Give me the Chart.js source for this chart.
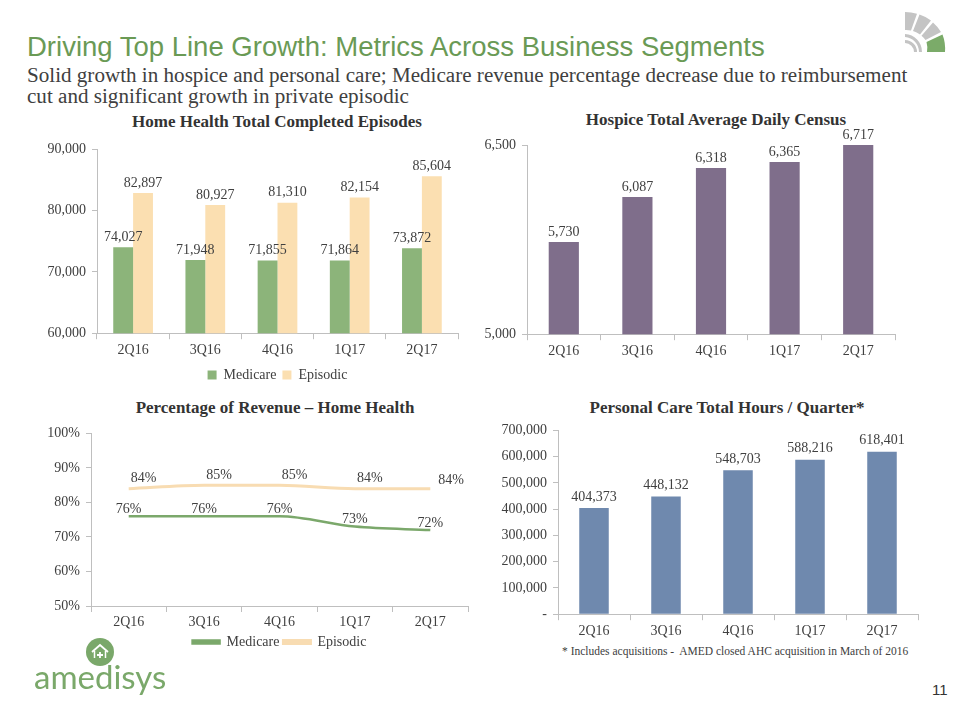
<!DOCTYPE html>
<html>
<head>
<meta charset="utf-8">
<script src="https://cdn.jsdelivr.net/npm/chart.js@4.4.0/dist/chart.umd.min.js"></script>
<style>
  html, body { margin: 0; padding: 0; background: #fff; }
  #page { position: relative; width: 960px; height: 720px; overflow: hidden; font-family: 'Liberation Serif', serif; color: #404040; }
  .abs { position: absolute; }
  h1 { position: absolute; left: 27px; top: 31px; margin: 0; font: 27.5px 'Liberation Sans', Arial, sans-serif; color: #6a9a55; white-space: nowrap; }
  .sub { left: 27px; top: 65px; width: 920px; font-size: 21.1px; line-height: 21px; color: #404040; white-space: nowrap; }
  .ctitle { width: 420px; text-align: center; font-weight: bold; font-size: 17px; color: #333; white-space: nowrap; }
  canvas { position: absolute; }
</style>
</head>
<body>
<div id="page">
  <svg class="abs" style="left:900px;top:8px" width="50" height="50" viewBox="0 0 50 50">
    <g fill="#c4c4c4">
      <path d="M5 4 A40 40 0 0 1 17 5.8 L11 22.5 A22 22 0 0 0 5 22 Z"/>
      <path d="M19.5 6.5 A40 40 0 0 1 31 12.5 L20 26.5 A22 22 0 0 0 13 23 Z"/>
      <path d="M33 14.5 A40 40 0 0 1 41 24 L25.5 32 A22 22 0 0 0 21.5 27.8 Z"/>
      <path d="M5 26 A18 18 0 0 1 22 44 L19 44 A15 15 0 0 0 5 29 Z"/>
      <path d="M5 32 A12 12 0 0 1 17 44 L14 44 A9 9 0 0 0 5 35 Z"/>
    </g>
    <path fill="#7bab69" d="M42.5 26.5 A40 40 0 0 1 45 44 L27 44 A22 22 0 0 0 26.5 34 Z"/>
  </svg>

  <h1>Driving Top Line Growth: Metrics Across Business Segments</h1>
  <div class="abs sub">Solid growth in hospice and personal care; Medicare revenue percentage decrease due to reimbursement<br>cut and significant growth in private episodic</div>

  <div class="abs ctitle" style="left:67px;top:112px">Home Health Total Completed Episodes</div>
  <div class="abs ctitle" style="left:506px;top:110px">Hospice Total Average Daily Census</div>
  <div class="abs ctitle" style="left:65px;top:398px">Percentage of Revenue – Home Health</div>
  <div class="abs ctitle" style="left:517px;top:398px">Personal Care Total Hours / Quarter*</div>

  <canvas id="c1" width="440" height="257" style="left:30px;top:135px"></canvas>
  <canvas id="c2" width="440" height="243" style="left:470px;top:120px"></canvas>
  <canvas id="c3" width="460" height="240" style="left:25px;top:419px"></canvas>
  <canvas id="c4" width="450" height="227" style="left:485px;top:416px"></canvas>

  <div class="abs" style="left:562px;top:645px;font-size:11.5px;white-space:nowrap">* Includes acquisitions -&nbsp; AMED closed AHC acquisition in March of 2016</div>

  <svg class="abs" style="left:86px;top:638px" width="28" height="28" viewBox="0 0 28 28">
    <circle cx="14" cy="14" r="14" fill="#7aa86a"/>
    <path d="M6 14 L14 7 L22 14" fill="none" stroke="#fff" stroke-width="1.8"/>
    <path d="M8.5 13 L8.5 20 M19.5 13 L19.5 20" fill="none" stroke="#fff" stroke-width="1.5"/>
    <path d="M14 14 L14 20 M11 17 L17 17" fill="none" stroke="#fff" stroke-width="1.8"/>
  </svg>
  <div class="abs" style="left:34px;top:656px;font:33px Lato, 'Noto Sans', sans-serif;color:#7aa86a">amedisys</div>
  <div class="abs" style="left:932px;top:681px;font:15px 'Liberation Sans', Arial, sans-serif;color:#333">11</div>
</div>

<script>
const quarters = ['2Q16', '3Q16', '4Q16', '1Q17', '2Q17'];

// Home Health total completed episodes
const hhMedicare = [74027, 71948, 71855, 71864, 73872];
const hhEpisodic = [82897, 80927, 81310, 82154, 85604];

// Hospice total average daily census
const hospiceAdc = [5730, 6087, 6318, 6365, 6717];

// Percentage of revenue - home health
const revMedicare = [76, 76, 76, 73, 72];
const revEpisodic = [84, 85, 85, 84, 84];

// Personal care total hours / quarter
const pcHours = [404373, 448132, 548703, 588216, 618401];

const SERIF = "'Liberation Serif', serif";
const TEXT = '#404040';
const AXIS = '#bfbfbf';

const fmt = v => v.toLocaleString('en-US');

// draws the value above each bar / point
function valueLabels(format, place) {
  return {
    id: 'valueLabels',
    afterDatasetsDraw(chart) {
      const ctx = chart.ctx;
      ctx.save();
      ctx.font = '14px ' + SERIF;
      ctx.fillStyle = TEXT;
      ctx.textBaseline = 'bottom';
      chart.data.datasets.forEach((ds, di) => {
        chart.getDatasetMeta(di).data.forEach((el, i) => {
          const p = place ? place(di, i) : {};
          const y = Math.max(el.y, chart.chartArea.top);
          ctx.textAlign = p.align || 'center';
          ctx.fillText(format(ds.data[i]), el.x + (p.dx || 0), y - (p.dy === undefined ? 4 : p.dy));
        });
      });
      ctx.restore();
    }
  };
}

function xAxis(extra) {
  return Object.assign({
    grid: { drawOnChartArea: false, drawTicks: true, tickLength: 6, color: AXIS },
    border: { color: AXIS },
    ticks: { color: TEXT, font: { family: SERIF, size: 14 }, padding: 3 }
  }, extra || {});
}

function yAxis(width, min, max, step, cb) {
  return {
    min: min, max: max,
    afterFit: s => { s.width = width; },
    grid: { drawOnChartArea: false, drawTicks: true, tickLength: 5, color: AXIS },
    border: { color: AXIS },
    ticks: { stepSize: step, color: TEXT, font: { family: SERIF, size: 14 }, padding: 6, callback: cb }
  };
}

const base = { responsive: false, animation: false, events: [] };

new Chart(document.getElementById('c1'), {
  type: 'bar',
  data: {
    labels: quarters,
    datasets: [
      { label: 'Medicare', data: hhMedicare, backgroundColor: '#8cb47a', categoryPercentage: 0.55, barPercentage: 1 },
      { label: 'Episodic', data: hhEpisodic, backgroundColor: '#fbdfb1', categoryPercentage: 0.55, barPercentage: 1 }
    ]
  },
  options: Object.assign({}, base, {
    layout: { padding: { top: 12, right: 12, left: 0, bottom: 0 } },
    scales: { x: xAxis(), y: yAxis(67, 60000, 90000, 10000, v => fmt(v)) },
    plugins: {
      tooltip: { enabled: false },
      legend: {
        position: 'bottom', fullSize: false,
        labels: { boxWidth: 9, boxHeight: 9, padding: 6, color: TEXT, font: { family: SERIF, size: 14 } }
      }
    }
  }),
  plugins: [valueLabels(fmt, () => ({ dy: 3 }))]
});

new Chart(document.getElementById('c2'), {
  type: 'bar',
  data: {
    labels: quarters,
    datasets: [{ label: 'ADC', data: hospiceAdc, backgroundColor: '#7f6e8b', categoryPercentage: 0.41, barPercentage: 1 }]
  },
  options: Object.assign({}, base, {
    layout: { padding: { top: 25, right: 15, left: 0, bottom: 0 } },
    scales: { x: xAxis(), y: yAxis(57, 5000, 6500, 1500, v => fmt(v)) },
    plugins: { tooltip: { enabled: false }, legend: { display: false } }
  }),
  plugins: [valueLabels(fmt, () => ({ dy: 3 }))]
});

new Chart(document.getElementById('c3'), {
  type: 'line',
  data: {
    labels: quarters,
    datasets: [
      { label: 'Medicare', data: revMedicare, borderColor: '#7ba86b', backgroundColor: '#7ba86b', borderWidth: 2.5, pointRadius: 0, cubicInterpolationMode: 'monotone' },
      { label: 'Episodic', data: revEpisodic, borderColor: '#f8dcb2', backgroundColor: '#f8dcb2', borderWidth: 3, pointRadius: 0, cubicInterpolationMode: 'monotone' }
    ]
  },
  options: Object.assign({}, base, {
    layout: { padding: { top: 12, right: 17, left: 0, bottom: 0 } },
    scales: {
      x: xAxis({
        offset: true,
        afterFit: s => { s.height = 25; },
        ticks: { color: TEXT, font: { family: SERIF, size: 14 }, padding: 2 },
        grid: { offset: true, drawOnChartArea: false, drawTicks: true, tickLength: 6, color: AXIS }
      }),
      y: yAxis(66, 50, 100, 10, v => v + '%')
    },
    plugins: {
      tooltip: { enabled: false },
      legend: {
        position: 'bottom', fullSize: false,
        labels: { boxWidth: 27, boxHeight: 3, padding: 4, color: TEXT, font: { family: SERIF, size: 14 } }
      }
    }
  }),
  plugins: [valueLabels(v => v + '%', (di, i) => {
    if (di === 1 && i === quarters.length - 1) return { dx: 8, dy: 1, align: 'left' };
    if (di === 1) return { dx: 15, dy: 3 };
    return { dy: 0 };
  })]
});

new Chart(document.getElementById('c4'), {
  type: 'bar',
  data: {
    labels: quarters,
    datasets: [{ label: 'Hours', data: pcHours, backgroundColor: '#6f89ae', categoryPercentage: 0.41, barPercentage: 1 }]
  },
  options: Object.assign({}, base, {
    layout: { padding: { top: 14, right: 17, left: 0, bottom: 0 } },
    scales: { x: xAxis(), y: yAxis(73, 0, 700000, 100000, v => v === 0 ? '-' : fmt(v)) },
    plugins: { tooltip: { enabled: false }, legend: { display: false } }
  }),
  plugins: [valueLabels(fmt, () => ({ dy: 4 }))]
});
</script>
</body>
</html>
